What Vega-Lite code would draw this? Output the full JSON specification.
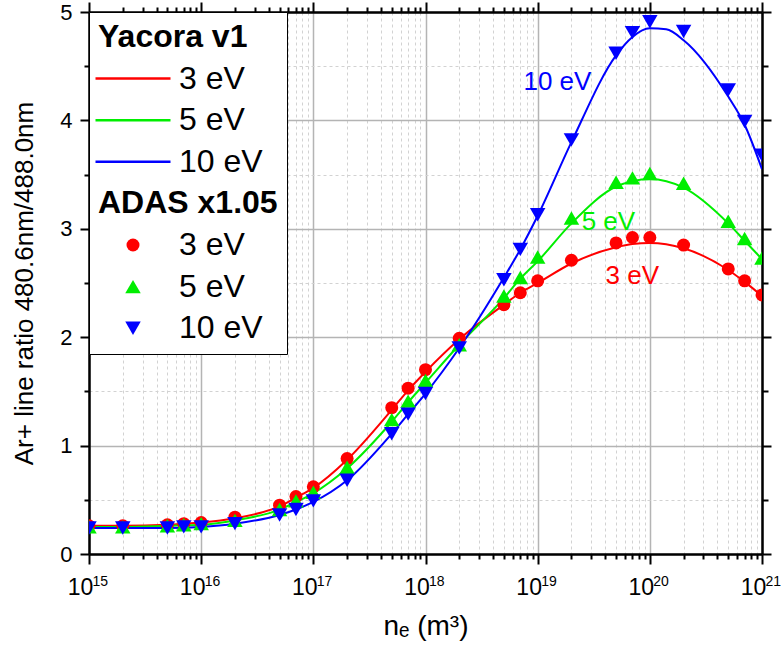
{
  "$schema": "https://vega.github.io/schema/vega-lite/v6.json",
  "width": 673,
  "height": 542,
  "autosize": "none",
  "padding": {"left": 89, "top": 12, "right": 21, "bottom": 91},
  "background": "white",
  "config": {
    "view": {"stroke": null},
    "font": "Liberation Sans",
    "legend": {
      "orient": "top-left",
      "offset": 0,
      "padding": 9,
      "fillColor": "white",
      "strokeColor": "black",
      "labelFont": "Liberation Sans",
      "labelFontSize": 32,
      "labelColor": "black",
      "labelLimit": 400,
      "labelOffset": 10,
      "rowPadding": 9.6,
      "symbolStrokeWidth": 2.5
    }
  },
  "datasets": {
    "yacora": [
      {"series": "Y3", "ne": 1e15, "ratio": 0.26}, {"series": "Y3", "ne": 2e15, "ratio": 0.26}, {"series": "Y3", "ne": 5e15, "ratio": 0.27},
      {"series": "Y3", "ne": 1e16, "ratio": 0.29}, {"series": "Y3", "ne": 2e16, "ratio": 0.33}, {"series": "Y3", "ne": 5e16, "ratio": 0.44},
      {"series": "Y3", "ne": 7e16, "ratio": 0.52}, {"series": "Y3", "ne": 1e17, "ratio": 0.61}, {"series": "Y3", "ne": 2e17, "ratio": 0.87},
      {"series": "Y3", "ne": 5e17, "ratio": 1.33}, {"series": "Y3", "ne": 7e17, "ratio": 1.51}, {"series": "Y3", "ne": 1e18, "ratio": 1.68},
      {"series": "Y3", "ne": 2e18, "ratio": 1.98}, {"series": "Y3", "ne": 5e18, "ratio": 2.30}, {"series": "Y3", "ne": 7e18, "ratio": 2.41},
      {"series": "Y3", "ne": 1e19, "ratio": 2.50}, {"series": "Y3", "ne": 2e19, "ratio": 2.68}, {"series": "Y3", "ne": 5e19, "ratio": 2.83},
      {"series": "Y3", "ne": 7e19, "ratio": 2.86}, {"series": "Y3", "ne": 1e20, "ratio": 2.87}, {"series": "Y3", "ne": 2e20, "ratio": 2.82},
      {"series": "Y3", "ne": 5e20, "ratio": 2.62}, {"series": "Y3", "ne": 7e20, "ratio": 2.51}, {"series": "Y3", "ne": 1e21, "ratio": 2.38},
      {"series": "Y5", "ne": 1e15, "ratio": 0.25}, {"series": "Y5", "ne": 2e15, "ratio": 0.25}, {"series": "Y5", "ne": 5e15, "ratio": 0.26},
      {"series": "Y5", "ne": 1e16, "ratio": 0.27}, {"series": "Y5", "ne": 2e16, "ratio": 0.31}, {"series": "Y5", "ne": 5e16, "ratio": 0.41},
      {"series": "Y5", "ne": 7e16, "ratio": 0.48}, {"series": "Y5", "ne": 1e17, "ratio": 0.56}, {"series": "Y5", "ne": 2e17, "ratio": 0.79},
      {"series": "Y5", "ne": 5e17, "ratio": 1.22}, {"series": "Y5", "ne": 7e17, "ratio": 1.40}, {"series": "Y5", "ne": 1e18, "ratio": 1.58},
      {"series": "Y5", "ne": 2e18, "ratio": 1.93}, {"series": "Y5", "ne": 5e18, "ratio": 2.36}, {"series": "Y5", "ne": 7e18, "ratio": 2.54},
      {"series": "Y5", "ne": 1e19, "ratio": 2.70}, {"series": "Y5", "ne": 2e19, "ratio": 3.05}, {"series": "Y5", "ne": 5e19, "ratio": 3.39},
      {"series": "Y5", "ne": 7e19, "ratio": 3.44}, {"series": "Y5", "ne": 1e20, "ratio": 3.46}, {"series": "Y5", "ne": 2e20, "ratio": 3.38},
      {"series": "Y5", "ne": 5e20, "ratio": 3.05}, {"series": "Y5", "ne": 7e20, "ratio": 2.89}, {"series": "Y5", "ne": 1e21, "ratio": 2.72},
      {"series": "Y10", "ne": 1e15, "ratio": 0.24}, {"series": "Y10", "ne": 2e15, "ratio": 0.24}, {"series": "Y10", "ne": 5e15, "ratio": 0.24},
      {"series": "Y10", "ne": 1e16, "ratio": 0.25}, {"series": "Y10", "ne": 2e16, "ratio": 0.28}, {"series": "Y10", "ne": 5e16, "ratio": 0.36},
      {"series": "Y10", "ne": 7e16, "ratio": 0.41}, {"series": "Y10", "ne": 1e17, "ratio": 0.48}, {"series": "Y10", "ne": 2e17, "ratio": 0.68},
      {"series": "Y10", "ne": 5e17, "ratio": 1.11}, {"series": "Y10", "ne": 7e17, "ratio": 1.29}, {"series": "Y10", "ne": 1e18, "ratio": 1.48},
      {"series": "Y10", "ne": 2e18, "ratio": 1.90}, {"series": "Y10", "ne": 5e18, "ratio": 2.55}, {"series": "Y10", "ne": 7e18, "ratio": 2.81},
      {"series": "Y10", "ne": 1e19, "ratio": 3.12}, {"series": "Y10", "ne": 2e19, "ratio": 3.80}, {"series": "Y10", "ne": 5e19, "ratio": 4.60},
      {"series": "Y10", "ne": 7e19, "ratio": 4.77}, {"series": "Y10", "ne": 1e20, "ratio": 4.85}, {"series": "Y10", "ne": 1.4e20, "ratio": 4.84},
      {"series": "Y10", "ne": 2e20, "ratio": 4.74}, {"series": "Y10", "ne": 5e20, "ratio": 4.22}, {"series": "Y10", "ne": 7e20, "ratio": 3.96},
      {"series": "Y10", "ne": 1e21, "ratio": 3.55}
    ],
    "adas": [
      {"series": "A3", "ne": 1e15, "ratio": 0.26}, {"series": "A3", "ne": 2e15, "ratio": 0.26}, {"series": "A3", "ne": 5e15, "ratio": 0.27},
      {"series": "A3", "ne": 7e15, "ratio": 0.28}, {"series": "A3", "ne": 1e16, "ratio": 0.29}, {"series": "A3", "ne": 2e16, "ratio": 0.34},
      {"series": "A3", "ne": 5e16, "ratio": 0.45}, {"series": "A3", "ne": 7e16, "ratio": 0.53}, {"series": "A3", "ne": 1e17, "ratio": 0.62},
      {"series": "A3", "ne": 2e17, "ratio": 0.88}, {"series": "A3", "ne": 5e17, "ratio": 1.35}, {"series": "A3", "ne": 7e17, "ratio": 1.53},
      {"series": "A3", "ne": 1e18, "ratio": 1.70}, {"series": "A3", "ne": 2e18, "ratio": 1.99}, {"series": "A3", "ne": 5e18, "ratio": 2.30},
      {"series": "A3", "ne": 7e18, "ratio": 2.41}, {"series": "A3", "ne": 1e19, "ratio": 2.52}, {"series": "A3", "ne": 2e19, "ratio": 2.71},
      {"series": "A3", "ne": 5e19, "ratio": 2.87}, {"series": "A3", "ne": 7e19, "ratio": 2.92}, {"series": "A3", "ne": 1e20, "ratio": 2.92},
      {"series": "A3", "ne": 2e20, "ratio": 2.85}, {"series": "A3", "ne": 5e20, "ratio": 2.63}, {"series": "A3", "ne": 7e20, "ratio": 2.52},
      {"series": "A3", "ne": 1e21, "ratio": 2.39},
      {"series": "A5", "ne": 1e15, "ratio": 0.25}, {"series": "A5", "ne": 2e15, "ratio": 0.25}, {"series": "A5", "ne": 5e15, "ratio": 0.26},
      {"series": "A5", "ne": 7e15, "ratio": 0.27}, {"series": "A5", "ne": 1e16, "ratio": 0.28}, {"series": "A5", "ne": 2e16, "ratio": 0.31},
      {"series": "A5", "ne": 5e16, "ratio": 0.41}, {"series": "A5", "ne": 7e16, "ratio": 0.49}, {"series": "A5", "ne": 1e17, "ratio": 0.57},
      {"series": "A5", "ne": 2e17, "ratio": 0.80}, {"series": "A5", "ne": 5e17, "ratio": 1.24}, {"series": "A5", "ne": 7e17, "ratio": 1.41},
      {"series": "A5", "ne": 1e18, "ratio": 1.60}, {"series": "A5", "ne": 2e18, "ratio": 1.93}, {"series": "A5", "ne": 5e18, "ratio": 2.38},
      {"series": "A5", "ne": 7e18, "ratio": 2.55}, {"series": "A5", "ne": 1e19, "ratio": 2.74}, {"series": "A5", "ne": 2e19, "ratio": 3.10},
      {"series": "A5", "ne": 5e19, "ratio": 3.43}, {"series": "A5", "ne": 7e19, "ratio": 3.47}, {"series": "A5", "ne": 1e20, "ratio": 3.51},
      {"series": "A5", "ne": 2e20, "ratio": 3.42}, {"series": "A5", "ne": 5e20, "ratio": 3.07}, {"series": "A5", "ne": 7e20, "ratio": 2.91},
      {"series": "A5", "ne": 1e21, "ratio": 2.73},
      {"series": "A10", "ne": 1e15, "ratio": 0.24}, {"series": "A10", "ne": 2e15, "ratio": 0.24}, {"series": "A10", "ne": 5e15, "ratio": 0.24},
      {"series": "A10", "ne": 7e15, "ratio": 0.25}, {"series": "A10", "ne": 1e16, "ratio": 0.25}, {"series": "A10", "ne": 2e16, "ratio": 0.28},
      {"series": "A10", "ne": 5e16, "ratio": 0.36}, {"series": "A10", "ne": 7e16, "ratio": 0.41}, {"series": "A10", "ne": 1e17, "ratio": 0.49},
      {"series": "A10", "ne": 2e17, "ratio": 0.68}, {"series": "A10", "ne": 5e17, "ratio": 1.11}, {"series": "A10", "ne": 7e17, "ratio": 1.29},
      {"series": "A10", "ne": 1e18, "ratio": 1.48}, {"series": "A10", "ne": 2e18, "ratio": 1.90}, {"series": "A10", "ne": 5e18, "ratio": 2.53},
      {"series": "A10", "ne": 7e18, "ratio": 2.81}, {"series": "A10", "ne": 1e19, "ratio": 3.13}, {"series": "A10", "ne": 2e19, "ratio": 3.82},
      {"series": "A10", "ne": 5e19, "ratio": 4.62}, {"series": "A10", "ne": 7e19, "ratio": 4.81}, {"series": "A10", "ne": 1e20, "ratio": 4.91},
      {"series": "A10", "ne": 2e20, "ratio": 4.82}, {"series": "A10", "ne": 5e20, "ratio": 4.28}, {"series": "A10", "ne": 7e20, "ratio": 3.99},
      {"series": "A10", "ne": 1e21, "ratio": 3.68}
    ],
    "notes": [
      {"series": "Y10", "ne": 1.5e19, "ratio": 4.35, "label": "10 eV"},
      {"series": "Y5", "ne": 4.27e19, "ratio": 3.06, "label": "5 eV"},
      {"series": "Y3", "ne": 6.98e19, "ratio": 2.56, "label": "3 eV"}
    ]
  },
  "layer": [
    {
      "data": {"name": "yacora"},
      "mark": {"type": "line", "interpolate": "monotone", "strokeWidth": 2, "clip": true},
      "encoding": {
        "x": {
          "field": "ne", "type": "quantitative",
          "scale": {"type": "log", "domain": [1e15, 1e21], "nice": false},
          "axis": {
            "orient": "bottom",
            "values": [1e15,2e15,3e15,4e15,5e15,6e15,7e15,8e15,9e15,1e16,2e16,3e16,4e16,5e16,6e16,7e16,8e16,9e16,1e17,2e17,3e17,4e17,5e17,6e17,7e17,8e17,9e17,1e18,2e18,3e18,4e18,5e18,6e18,7e18,8e18,9e18,1e19,2e19,3e19,4e19,5e19,6e19,7e19,8e19,9e19,1e20,2e20,3e20,4e20,5e20,6e20,7e20,8e20,9e20,1e21],
            "title": "nₑ (m³)",
            "titleFont": "Liberation Sans", "titleFontSize": 28, "titleFontWeight": "normal", "titleColor": "black", "titlePadding": 13,
            "labelExpr": "abs(log(datum.value)/LN10 - round(log(datum.value)/LN10)) < 0.001 ? '10' : ''",
            "labelFont": "Liberation Sans", "labelFontSize": 23, "labelColor": "black", "labelPadding": 30, "labelBaseline": "alphabetic", "labelOffset": -9,
            "labelFlush": false, "labelOverlap": false,
            "domainColor": "black", "domainWidth": 2.5,
            "tickColor": "black", "tickWidth": 2,
            "tickSize": {"condition": {"test": "abs(log(datum.value)/LN10 - round(log(datum.value)/LN10)) < 0.001", "value": 10}, "value": 5},
            "grid": true,
            "gridColor": {"condition": {"test": "abs(log(datum.value)/LN10 - round(log(datum.value)/LN10)) < 0.001", "value": "#b4b4b4"}, "value": "#d2d2d2"},
            "gridDash": {"condition": {"test": "abs(log(datum.value)/LN10 - round(log(datum.value)/LN10)) < 0.001", "value": []}, "value": [3, 3]},
            "gridWidth": {"condition": {"test": "abs(log(datum.value)/LN10 - round(log(datum.value)/LN10)) < 0.001", "value": 1.5}, "value": 1}
          }
        },
        "y": {
          "field": "ratio", "type": "quantitative",
          "scale": {"domain": [0, 5], "nice": false, "zero": false},
          "axis": {
            "orient": "left",
            "values": [0, 0.5, 1, 1.5, 2, 2.5, 3, 3.5, 4, 4.5, 5],
            "title": "Ar+ line ratio 480.6nm/488.0nm",
            "titleFont": "Liberation Sans", "titleFontSize": 26, "titleFontWeight": "normal", "titleColor": "black", "titlePadding": 22,
            "labelExpr": "datum.value % 1 == 0 ? format(datum.value, 'd') : ''",
            "labelFont": "Liberation Sans", "labelFontSize": 22, "labelColor": "black", "labelPadding": 8, "labelFlush": false, "labelOverlap": false,
            "domainColor": "black", "domainWidth": 2.5,
            "tickColor": "black", "tickWidth": 2,
            "tickSize": {"condition": {"test": "datum.value % 1 == 0", "value": 9}, "value": 5},
            "grid": true,
            "gridColor": {"condition": {"test": "datum.value % 1 == 0", "value": "#b4b4b4"}, "value": "#d2d2d2"},
            "gridDash": {"condition": {"test": "datum.value % 1 == 0", "value": []}, "value": [3, 3]},
            "gridWidth": {"condition": {"test": "datum.value % 1 == 0", "value": 1.5}, "value": 1}
          }
        },
        "color": {
          "field": "series", "type": "nominal",
          "scale": {
            "domain": ["Yacora v1", "Y3", "Y5", "Y10", "ADAS x1.05", "A3", "A5", "A10"],
            "range": ["transparent", "#ff0000", "#00ee00", "#0000ff", "transparent", "#ff0000", "#00ee00", "#0000ff"]
          },
          "legend": {
            "title": null,
            "labelExpr": "datum.value == 'Y3' || datum.value == 'A3' ? '3 eV' : datum.value == 'Y5' || datum.value == 'A5' ? '5 eV' : datum.value == 'Y10' || datum.value == 'A10' ? '10 eV' : datum.value",
            "encode": {
              "labels": {
                "update": {
                  "fontWeight": {"signal": "datum.value == 'Yacora v1' || datum.value == 'ADAS x1.05' ? 'bold' : 'normal'"},
                  "x": {"signal": "datum.value == 'Yacora v1' || datum.value == 'ADAS x1.05' ? 0 : 81"}
                }
              },
              "symbols": {
                "update": {
                  "x": {"value": 35},
                  "fill": {"scale": "color", "field": "value"},
                  "stroke": {"scale": "color", "field": "value"},
                  "strokeWidth": {"signal": "datum.value == 'Y3' || datum.value == 'Y5' || datum.value == 'Y10' ? 2.5 : 0"},
                  "opacity": {"value": 1}
                }
              }
            }
          }
        }
      }
    },
    {
      "data": {"name": "adas"},
      "mark": {"type": "point", "filled": true, "opacity": 1, "clip": true},
      "encoding": {
        "x": {
          "field": "ne", "type": "quantitative",
          "scale": {"type": "log", "domain": [1e15, 1e21], "nice": false},
          "axis": {
            "orient": "top",
            "values": [1e15,2e15,3e15,4e15,5e15,6e15,7e15,8e15,9e15,1e16,2e16,3e16,4e16,5e16,6e16,7e16,8e16,9e16,1e17,2e17,3e17,4e17,5e17,6e17,7e17,8e17,9e17,1e18,2e18,3e18,4e18,5e18,6e18,7e18,8e18,9e18,1e19,2e19,3e19,4e19,5e19,6e19,7e19,8e19,9e19,1e20,2e20,3e20,4e20,5e20,6e20,7e20,8e20,9e20,1e21],
            "title": null, "labels": false, "grid": false,
            "domainColor": "black", "domainWidth": 2.5,
            "tickColor": "black", "tickWidth": 2,
            "tickSize": {"condition": {"test": "abs(log(datum.value)/LN10 - round(log(datum.value)/LN10)) < 0.001", "value": 10}, "value": 5}
          }
        },
        "y": {
          "field": "ratio", "type": "quantitative",
          "scale": {"domain": [0, 5], "nice": false, "zero": false},
          "axis": {
            "orient": "right",
            "values": [0, 0.5, 1, 1.5, 2, 2.5, 3, 3.5, 4, 4.5, 5],
            "title": null, "labels": false, "grid": false,
            "domainColor": "black", "domainWidth": 2.5,
            "tickColor": "black", "tickWidth": 2,
            "tickSize": {"condition": {"test": "datum.value % 1 == 0", "value": 9}, "value": 6}
          }
        },
        "color": {"field": "series", "type": "nominal"},
        "shape": {
          "field": "series", "type": "nominal",
          "scale": {
            "domain": ["Yacora v1", "Y3", "Y5", "Y10", "ADAS x1.05", "A3", "A5", "A10"],
            "range": ["circle", "stroke", "stroke", "stroke", "circle", "circle", "triangle-up", "triangle-down"]
          }
        },
        "size": {
          "field": "series", "type": "nominal",
          "scale": {
            "type": "ordinal",
            "domain": ["Yacora v1", "Y3", "Y5", "Y10", "ADAS x1.05", "A3", "A5", "A10"],
            "range": [10, 5625, 5625, 5625, 10, 169, 240, 240]
          }
        }
      }
    },
    {
      "data": {"name": "notes"},
      "mark": {"type": "text", "font": "Liberation Sans", "fontSize": 26, "align": "center", "baseline": "middle"},
      "encoding": {
        "x": {
          "field": "ne", "type": "quantitative",
          "scale": {"type": "log", "domain": [1e15, 1e21], "nice": false},
          "axis": {
            "orient": "bottom",
            "values": [1e15, 1e16, 1e17, 1e18, 1e19, 1e20, 1e21],
            "title": null, "grid": false, "domain": false,
            "tickSize": 10, "tickColor": "transparent",
            "labelExpr": "format(round(log(datum.value)/LN10), 'd')",
            "labelFont": "Liberation Sans", "labelFontSize": 14, "labelColor": "black", "labelPadding": 21, "labelBaseline": "alphabetic",
            "labelAlign": "left", "labelOffset": 3, "labelFlush": false, "labelOverlap": false
          }
        },
        "y": {"field": "ratio", "type": "quantitative", "scale": {"domain": [0, 5], "nice": false, "zero": false}, "axis": null},
        "text": {"field": "label"},
        "color": {"field": "series", "type": "nominal"}
      }
    }
  ],
  "resolve": {"axis": {"x": "independent", "y": "independent"}}
}
